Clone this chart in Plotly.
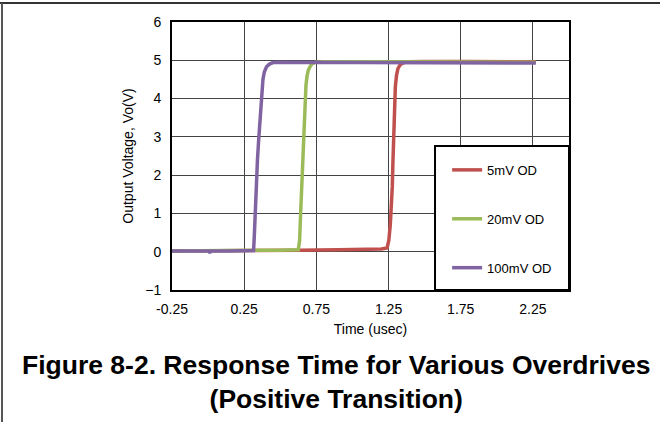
import plotly.graph_objects as go

# ---- data ----
series_names = ["5mV OD", "20mV OD", "100mV OD"]

t_5mv = [-0.25, 0.0, 0.3, 0.63, 0.9, 1.2, 1.24, 1.252, 1.262, 1.27, 1.276, 1.28, 1.284, 1.29,
         1.297, 1.305, 1.315, 1.33, 1.35, 1.38, 1.5, 1.8, 2.0, 2.27]
v_5mv = [0.02, 0.02, 0.03, 0.04, 0.05, 0.07, 0.1, 0.3, 0.7, 1.2, 1.7, 2.3, 3.0, 3.8,
         4.3, 4.6, 4.78, 4.88, 4.93, 4.96, 4.97, 4.97, 4.97, 4.96]

t_20mv = [-0.25, 0.0, 0.3, 0.5, 0.625, 0.634, 0.64, 0.646, 0.653, 0.662, 0.671, 0.678,
          0.686, 0.695, 0.71, 0.725, 0.745, 0.8, 1.2, 1.6, 2.0, 2.27]
v_20mv = [0.02, 0.02, 0.03, 0.04, 0.05, 0.3, 0.9, 1.5, 2.1, 3.0, 3.9, 4.35,
          4.6, 4.75, 4.86, 4.92, 4.95, 4.96, 4.96, 4.96, 4.96, 4.95]

t_100mv = [-0.25, -0.1, 0.005, 0.012, 0.02, 0.15, 0.315, 0.32, 0.326, 0.334, 0.342, 0.35,
           0.358, 0.366, 0.373, 0.38, 0.39, 0.405, 0.425, 0.45, 0.48, 0.7, 1.0, 1.5, 2.0, 2.27]
v_100mv = [0.02, 0.02, 0.02, -0.03, 0.02, 0.02, 0.03, 0.4, 1.1, 1.8, 2.4, 2.9,
           3.4, 3.9, 4.25, 4.5, 4.7, 4.83, 4.9, 4.94, 4.95, 4.95, 4.95, 4.94, 4.94, 4.93]

x_tick_vals = [-0.25, 0.25, 0.75, 1.25, 1.75, 2.25]
x_tick_text = ["-0.25", "0.25", "0.75", "1.25", "1.75", "2.25"]
y_tick_vals = [-1, 0, 1, 2, 3, 4, 5, 6]

colors = ["#C0504D", "#9BBB59", "#8064A2"]

fig = go.Figure()
for i, (name, t, v) in enumerate(zip(series_names, [t_5mv, t_20mv, t_100mv],
                                      [v_5mv, v_20mv, v_100mv])):
    fig.add_trace(go.Scatter(
        x=t, y=v, mode="lines", name=name, legendgroup=name,
        line=dict(color=colors[i], width=3.5),
    ))

font_family = "Liberation Sans, Arial, sans-serif"

fig.update_layout(
    width=660, height=422,
    margin=dict(l=172, r=91, t=22, b=132),
    paper_bgcolor="white", plot_bgcolor="white",
    font=dict(family=font_family, size=14, color="black"),
    showlegend=True,
    legend=dict(
        x=0.693, y=0.504, xanchor="left", yanchor="top",
        bgcolor="rgba(0,0,0,0)", borderwidth=0,
        font=dict(size=13, family=font_family, color="black"),
        tracegroupgap=29, traceorder="grouped",
    ),
    xaxis=dict(
        range=[-0.25, 2.5], tickmode="array", tickvals=x_tick_vals, ticktext=x_tick_text,
        showgrid=True, gridcolor="#444444", gridwidth=1,
        showline=True, linecolor="black", linewidth=2, mirror=True,
        zeroline=False, ticks="", ticklen=0, ticklabelstandoff=5,
        title=dict(text="Time (usec)", font=dict(size=14), standoff=8),
        tickfont=dict(size=14),
    ),
    yaxis=dict(
        range=[-1, 6], tickmode="array", tickvals=y_tick_vals,
        showgrid=True, gridcolor="#444444", gridwidth=1,
        showline=True, linecolor="black", linewidth=2, mirror=True,
        zeroline=False, ticks="", ticklen=0, ticklabelstandoff=6,
        title=dict(text="Output Voltage, Vo(V)", font=dict(size=14), standoff=8),
        tickfont=dict(size=14),
    ),
    shapes=[
        # legend box
        dict(type="rect", xref="paper", yref="paper", x0=0.6625, x1=1.0, y0=0.0, y1=0.537,
             fillcolor="white", line=dict(color="black", width=2), layer="above"),
        # page border lines
        dict(type="line", xref="paper", yref="paper", x0=-172/397, x1=(660-172)/397,
             y0=1+19/268, y1=1+19/268, line=dict(color="#333333", width=2)),
        dict(type="line", xref="paper", yref="paper", x0=-170/397, x1=-170/397,
             y0=1+19/268, y1=-132/268, line=dict(color="#555555", width=2)),
    ],
    annotations=[
        dict(text="<b>Figure 8-2. Response Time for Various Overdrives<br>(Positive Transition)</b>",
             xref="paper", yref="paper", x=(336-172)/397, y=-(348-290)/268,
             xanchor="center", yanchor="top", showarrow=False, align="center",
             font=dict(size=26.5, family=font_family, color="black")),
    ],
)

fig.write_html("out.html", config={"displayModeBar": False},
               post_script="document.body.style.margin='0';")
